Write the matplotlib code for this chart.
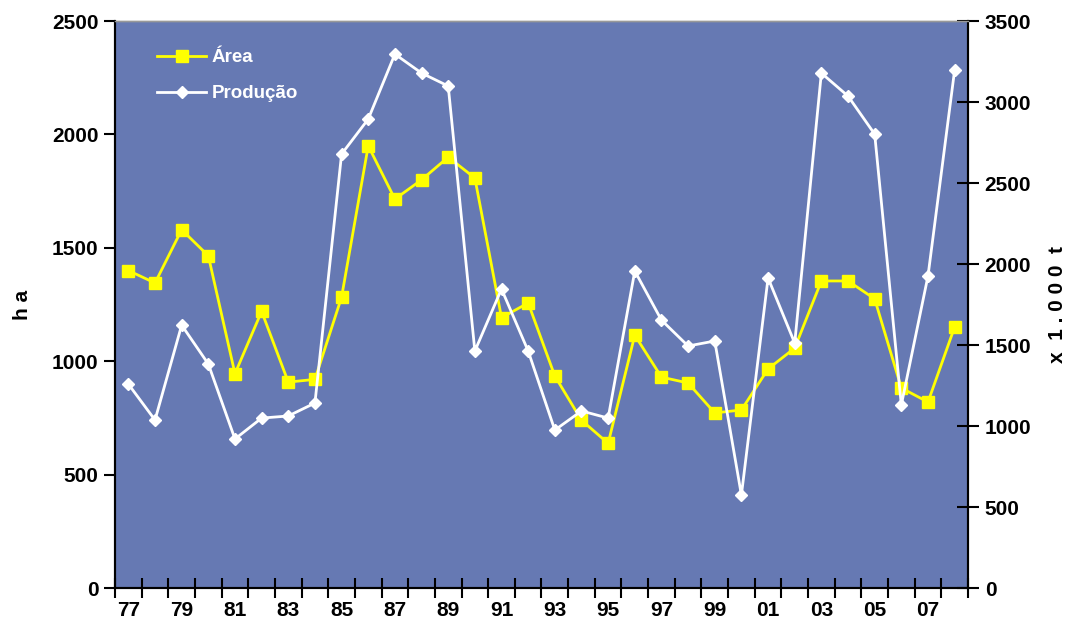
import matplotlib
matplotlib.use("Agg")
import matplotlib.pyplot as plt
from matplotlib.ticker import FixedLocator, NullFormatter
import numpy as np

plt.rcParams['font.family'] = ['Liberation Sans', 'DejaVu Sans']

# data
years = ['77', '78', '79', '80', '81', '82', '83', '84', '85', '86', '87', '88',
         '89', '90', '91', '92', '93', '94', '95', '96', '97', '98', '99', '00',
         '01', '02', '03', '04', '05', '06', '07', '08']
area = [1400, 1345, 1580, 1465, 945, 1220, 908, 920, 1283, 1950, 1715, 1800,
        1900, 1808, 1192, 1257, 935, 740, 638, 1115, 930, 904, 772, 785,
        966, 1058, 1354, 1354, 1275, 882, 820, 1151]
producao = [1259, 1037, 1623, 1383, 920, 1049, 1062, 1142, 2679, 2895, 3296, 3179,
            3099, 1463, 1846, 1463, 975, 1093, 1049, 1957, 1654, 1494, 1525, 574,
            1914, 1512, 3179, 3037, 2802, 1130, 1926, 3198]

bg = '#6679b3'
x = np.arange(len(years))

fig = plt.figure(figsize=(10.71, 6.2), dpi=100)
ax = fig.add_axes([0.1074, 0.0516, 0.7964, 0.9144])
ax.set_facecolor(bg)
ax2 = ax.twinx()

la, = ax.plot(x, area, color='#ffff00', lw=2, marker='s', ms=8.5,
              mec='#ffff00', label='Área', zorder=3)
lp, = ax2.plot(x, producao, color='white', lw=2, marker='D', ms=6.5,
               mec='white', label='Produção', zorder=3)

ax.set_xlim(-0.5, len(years) - 0.5)
ax.set_ylim(0, 2500)
ax2.set_ylim(0, 3500)
ax.set_yticks(np.arange(0, 2501, 500))
ax2.set_yticks(np.arange(0, 3501, 500))

ax.xaxis.set_major_locator(FixedLocator(x[::2]))
ax.set_xticklabels(years[::2])
ax.xaxis.set_minor_locator(FixedLocator(np.arange(-0.5, len(years), 1)))
ax.xaxis.set_minor_formatter(NullFormatter())
ax.tick_params(axis='x', which='major', length=0, pad=9)
ax.tick_params(axis='x', which='minor', direction='inout', length=14, width=1.5)
ax.tick_params(axis='y', direction='out', length=8, width=1.5, pad=4)
ax2.tick_params(axis='y', direction='inout', length=16, width=1.5, pad=4)

for a in (ax, ax2):
    for lbl in a.get_xticklabels() + a.get_yticklabels():
        lbl.set_fontweight('bold')
        lbl.set_fontsize(15)

for a in (ax, ax2):
    a.spines['top'].set_color('#999999')
    a.spines['top'].set_linewidth(1)
    a.spines['left'].set_linewidth(1.5)
    a.spines['right'].set_linewidth(1.5)
    a.spines['bottom'].set_linewidth(1.5)

ax.set_ylabel('h a', fontsize=15, fontweight='bold', labelpad=14)
ax2.set_ylabel('x  1 . 0 0 0  t', fontsize=15, fontweight='bold',
               rotation=90, labelpad=12)

leg = ax.legend(handles=[la, lp], loc='upper left', frameon=False,
                bbox_to_anchor=(0.03, 0.98), handlelength=2.6,
                handletextpad=0.3, labelspacing=1.0, fontsize=13.5)
for t in leg.get_texts():
    t.set_color('white')
    t.set_fontweight('bold')

fig.savefig('out.png', dpi=100)
